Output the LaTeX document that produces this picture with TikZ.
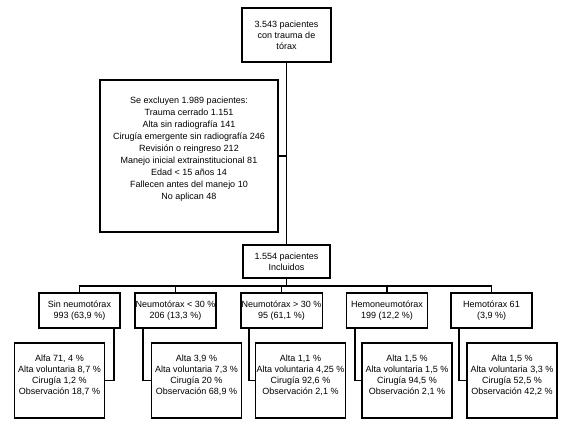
\documentclass[tikz,border=0pt]{standalone}
\usepackage{fontspec}
\setmainfont{Liberation Sans}
\begin{document}
\begin{tikzpicture}[x=1pt,y=-1pt,
  box/.style={draw,line width=1.8pt,rectangle,align=center,inner sep=1pt,font=\fontsize{9}{11}\selectfont},
  catbox/.style={box,minimum width=81,minimum height=35},
  outbox/.style={box,minimum width=90,minimum height=75},
  conn/.style={line width=1.8pt}]
\useasboundingbox (0,0) rectangle (567,425);
\fill[white] (0,0) rectangle (567,425);

\node[box,minimum width=89,minimum height=54] (top) at (286.5,35) {3.543 pacientes\\con trauma de\\tórax};
\node[box,minimum width=178,minimum height=152,font=\fontsize{9}{12}\selectfont] (excl) at (189,156)
 {Se excluyen 1.989 pacientes:\\Trauma cerrado 1.151\\Alta sin radiografía 141\\Cirugía emergente sin radiografía 246\\Revisión o reingreso 212\\Manejo inicial extrainstitucional 81\\Edad < 15 años 14\\Fallecen antes del manejo 10\\No aplican 48\\[0pt]\rule{0pt}{12pt}};
\node[box,minimum width=87,minimum height=33] (incl) at (286.5,261.5) {1.554 pacientes\\Incluidos};

\node[catbox] (c1) at (79.5,310.5) {Sin neumotórax\\993 (63,9 \%)};
\node[catbox] (c2) at (175.5,310.5) {Neumotórax < 30 \%\\206 (13,3 \%)};
\node[catbox] (c3) at (281.5,310.5) {Neumotórax > 30 \%\\95 (61,1 \%)};
\node[catbox] (c4) at (387,310.5) {Hemoneumotórax\\199 (12,2 \%)};
\node[catbox] (c5) at (491.5,310.5) {Hemotórax 61\\(3,9 \%)};

\node[outbox] (o1) at (59.5,380.5) {Alfa 71, 4 \%\\Alta voluntaria 8,7 \%\\Cirugía 1,2 \%\\Observación 18,7 \%\\[0pt]\rule{0pt}{4pt}};
\node[outbox] (o2) at (196.5,380.5) {Alta 3,9 \%\\Alta voluntaria 7,3 \%\\Cirugía 20 \%\\Observación 68,9 \%\\[0pt]\rule{0pt}{4pt}};
\node[outbox] (o3) at (300.5,380.5) {Alta 1,1 \%\\Alta voluntaria 4,25 \%\\Cirugía 92,6 \%\\Observación 2,1 \%\\[0pt]\rule{0pt}{8pt}};
\node[outbox] (o4) at (407,380.5) {Alta 1,5 \%\\Alta voluntaria 1,5 \%\\Cirugía 94,5 \%\\Observación 2,1 \%\\[0pt]\rule{0pt}{4pt}};
\node[outbox] (o5) at (512,380.5) {Alta 1,5 \%\\Alta voluntaria 3,3 \%\\Cirugía 52,5 \%\\Observación 42,2 \%\\[0pt]\rule{0pt}{4pt}};

\draw[conn] (top.south) -- (incl.north);
\draw[conn] (excl.east) -- (excl.east -| top.south);
\coordinate (bus) at (286.5,286);
\draw[conn] (incl.south) -- (bus);
\draw[conn,line join=miter] (c1.north) -- (c1.north |- bus) -- (c5.north |- bus) -- (c5.north);
\foreach \c in {c2,c3,c4} \draw[conn] (\c.north) -- (\c.north |- bus);

\draw[conn] ([xshift=-7pt]c1.south east) |- (o1.east);
\foreach \i in {2,3,4,5} \draw[conn] ([xshift=9pt]c\i.south west) |- (o\i.west);
\end{tikzpicture}
\end{document}
